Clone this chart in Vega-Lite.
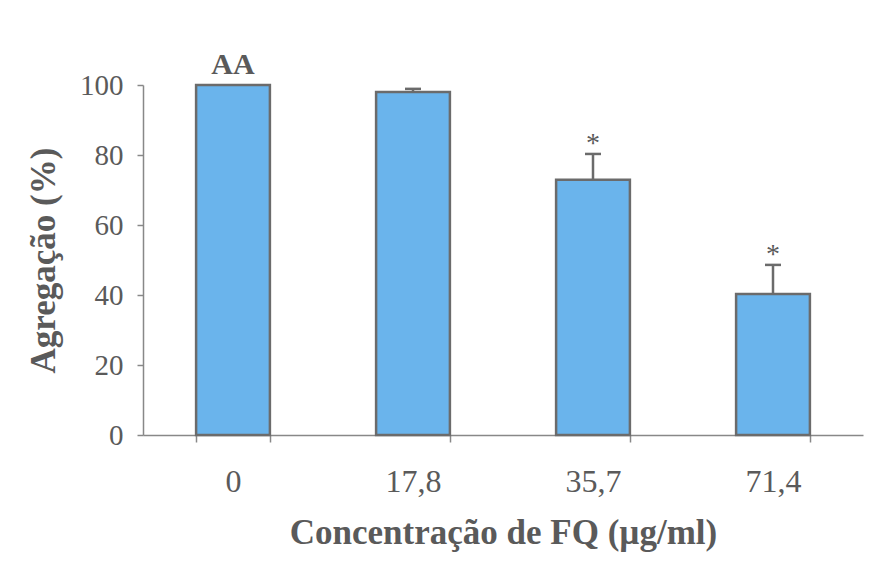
{
  "$schema": "https://vega.github.io/schema/vega-lite/v6.json",
  "autosize": "none",
  "width": 720,
  "height": 350,
  "padding": {"left": 143, "top": 85, "right": 11, "bottom": 134},
  "background": "white",
  "config": {"view": {"stroke": null}, "font": "Liberation Serif"},
  "data": {"values": [
    {"conc": "0", "value": 100, "upper": 100, "label": "AA"},
    {"conc": "17,8", "value": 98, "upper": 98.9, "label": ""},
    {"conc": "35,7", "value": 72.9, "upper": 80.3, "label": "*"},
    {"conc": "71,4", "value": 40.3, "upper": 48.6, "label": "*"}
  ]},
  "encoding": {
    "x": {
      "field": "conc", "type": "nominal", "sort": null,
      "scale": {"paddingInner": 0.59, "paddingOuter": 0.295},
      "axis": {
        "title": "Concentração de FQ (µg/ml)",
        "labelAngle": 0, "labelFont": "Liberation Serif", "labelFontSize": 32, "labelColor": "#5a5a5a",
        "labelPadding": 24, "tickBand": "extent", "tickSize": 7, "tickColor": "#888", "tickWidth": 1.5,
        "domainColor": "#888", "domainWidth": 1.5,
        "titleFont": "Liberation Serif", "titleFontSize": 35, "titleFontWeight": "bold", "titleColor": "#5a5a5a",
        "titlePadding": 18
      }
    }
  },
  "layer": [
    {
      "mark": {"type": "bar", "fill": "#6ab4ec", "stroke": "#6b6b6b", "strokeWidth": 2.5},
      "encoding": {
        "y": {
          "field": "value", "type": "quantitative",
          "scale": {"domain": [0, 100], "nice": false},
          "axis": {
            "title": "Agregação (%)", "values": [0, 20, 40, 60, 80, 100], "grid": false,
            "labelFont": "Liberation Serif", "labelFontSize": 29, "labelColor": "#5a5a5a", "labelPadding": 14,
            "tickSize": 6, "tickColor": "#888", "tickWidth": 1.5, "domainColor": "#888", "domainWidth": 1.5,
            "titleFont": "Liberation Serif", "titleFontSize": 35, "titleFontWeight": "bold", "titleColor": "#5a5a5a",
            "titlePadding": 18
          }
        }
      }
    },
    {
      "mark": {"type": "rule", "stroke": "#6b6b6b", "strokeWidth": 2.5},
      "encoding": {"y": {"field": "value", "type": "quantitative"}, "y2": {"field": "upper"}}
    },
    {
      "transform": [{"filter": "datum.upper > datum.value"}],
      "mark": {"type": "tick", "orient": "horizontal", "size": 16, "thickness": 2.5, "color": "#6b6b6b", "opacity": 1},
      "encoding": {"y": {"field": "upper", "type": "quantitative"}}
    },
    {
      "transform": [{"filter": "datum.label == '*'"}],
      "mark": {"type": "text", "font": "Liberation Serif", "fontSize": 28, "color": "#5a5a5a", "baseline": "alphabetic", "dy": -2},
      "encoding": {"y": {"field": "upper", "type": "quantitative"}, "text": {"field": "label"}}
    },
    {
      "transform": [{"filter": "datum.label == 'AA'"}],
      "mark": {"type": "text", "font": "Liberation Serif", "fontSize": 30, "fontWeight": "bold", "color": "#5a5a5a", "baseline": "alphabetic", "dy": -11},
      "encoding": {"y": {"field": "upper", "type": "quantitative"}, "text": {"field": "label"}}
    }
  ]
}
